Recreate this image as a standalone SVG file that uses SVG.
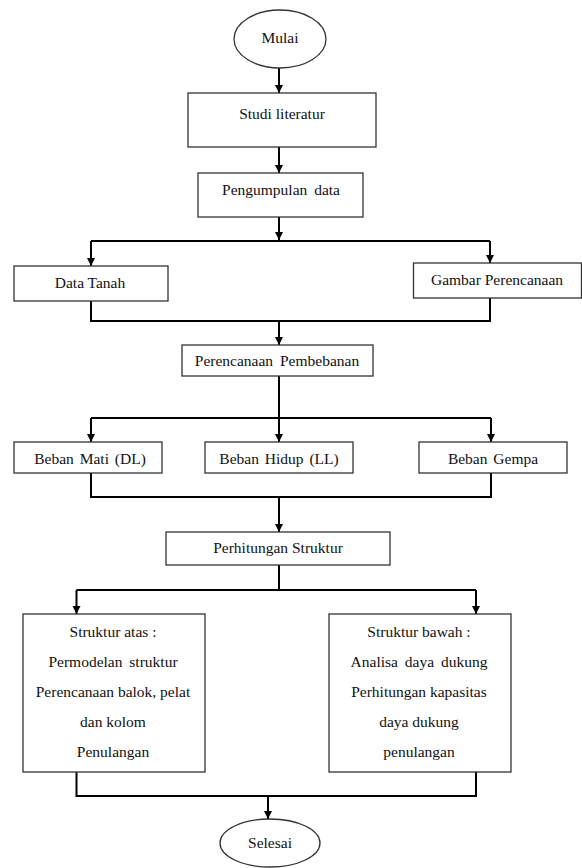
<svg xmlns="http://www.w3.org/2000/svg" width="582" height="868" viewBox="0 0 582 868">
<style>
.box{fill:#fff;stroke:#333;stroke-width:1.3}
.t{font-family:'Liberation Serif','Times New Roman',serif;font-size:15.5px;fill:#111;text-anchor:middle}
.c{fill:none;stroke:#000;stroke-width:2}
</style>
<defs>
<marker id="ah" markerUnits="userSpaceOnUse" markerWidth="9" markerHeight="9" refX="8" refY="4" orient="auto">
<path d="M0,0 L8,4 L0,8 z" fill="#000"/>
</marker>
</defs>
<rect width="582" height="868" fill="#fff"/>
<g id="connectors">
<line class="c" x1="279" y1="68" x2="279" y2="93" marker-end="url(#ah)"/>
<line class="c" x1="279" y1="147" x2="279" y2="173" marker-end="url(#ah)"/>
<line class="c" x1="279" y1="217" x2="279" y2="240" marker-end="url(#ah)"/>
<path class="c" d="M91,241 H490"/>
<line class="c" x1="91" y1="241" x2="91" y2="266" marker-end="url(#ah)"/>
<line class="c" x1="490" y1="241" x2="490" y2="263" marker-end="url(#ah)"/>
<path class="c" d="M91,301 V321 H490 V298"/>
<line class="c" x1="279" y1="321" x2="279" y2="345" marker-end="url(#ah)"/>
<path class="c" d="M279,376 V418"/>
<path class="c" d="M91,418 H491"/>
<line class="c" x1="91" y1="418" x2="91" y2="442" marker-end="url(#ah)"/>
<line class="c" x1="279" y1="418" x2="279" y2="442" marker-end="url(#ah)"/>
<line class="c" x1="491" y1="418" x2="491" y2="442" marker-end="url(#ah)"/>
<path class="c" d="M91,473 V497 H491 V473"/>
<line class="c" x1="279" y1="497" x2="279" y2="532" marker-end="url(#ah)"/>
<path class="c" d="M279,565 V590"/>
<path class="c" d="M76.5,590 H476"/>
<line class="c" x1="76.5" y1="590" x2="76.5" y2="614" marker-end="url(#ah)"/>
<line class="c" x1="476" y1="590" x2="476" y2="614" marker-end="url(#ah)"/>
<path class="c" d="M76.5,772 V796 H476 V772"/>
<line class="c" x1="268" y1="796" x2="268" y2="819" marker-end="url(#ah)"/>
</g>
<g id="mulai">
<ellipse class="box" cx="280" cy="39" rx="46" ry="29"/>
<text class="t" x="280" y="43">Mulai</text>
</g>
<g id="studi">
<rect class="box" x="188" y="93" width="188" height="54"/>
<text class="t" x="282" y="119">Studi literatur</text>
</g>
<g id="pengumpulan">
<rect class="box" x="198" y="173" width="165" height="44"/>
<text class="t" x="281" y="195" word-spacing="3">Pengumpulan data</text>
</g>
<g id="datatanah">
<rect class="box" x="14" y="266" width="154" height="35"/>
<text class="t" x="90" y="288">Data Tanah</text>
</g>
<g id="gambar">
<rect class="box" x="413.5" y="263" width="168" height="35"/>
<text class="t" x="497" y="285">Gambar Perencanaan</text>
</g>
<g id="pembebanan">
<rect class="box" x="182" y="345" width="191" height="31"/>
<text class="t" x="277" y="366" word-spacing="3">Perencanaan Pembebanan</text>
</g>
<g id="bebanmati">
<rect class="box" x="14" y="442" width="148" height="31"/>
<text class="t" x="90" y="464" word-spacing="2">Beban Mati (DL)</text>
</g>
<g id="bebanhidup">
<rect class="box" x="205" y="442" width="148" height="31"/>
<text class="t" x="279" y="464" word-spacing="2">Beban Hidup (LL)</text>
</g>
<g id="bebangempa">
<rect class="box" x="419" y="442" width="148" height="31"/>
<text class="t" x="493" y="464" word-spacing="2">Beban Gempa</text>
</g>
<g id="perhitungan">
<rect class="box" x="166" y="532" width="224" height="33"/>
<text class="t" x="278" y="553">Perhitungan Struktur</text>
</g>
<g id="atas">
<rect class="box" x="23" y="614" width="182" height="158"/>
<text class="t" x="113" y="637">Struktur atas :</text>
<text class="t" x="113" y="667" word-spacing="3">Permodelan struktur</text>
<text class="t" x="113" y="697">Perencanaan balok, pelat</text>
<text class="t" x="113" y="727">dan kolom</text>
<text class="t" x="113" y="757">Penulangan</text>
</g>
<g id="bawah">
<rect class="box" x="329" y="614" width="182" height="158"/>
<text class="t" x="419" y="637">Struktur bawah :</text>
<text class="t" x="419" y="667" word-spacing="3">Analisa daya dukung</text>
<text class="t" x="419" y="697">Perhitungan kapasitas</text>
<text class="t" x="419" y="727">daya dukung</text>
<text class="t" x="419" y="757">penulangan</text>
</g>
<g id="selesai">
<ellipse class="box" cx="270" cy="843" rx="50" ry="24"/>
<text class="t" x="270" y="848">Selesai</text>
</g>
</svg>
